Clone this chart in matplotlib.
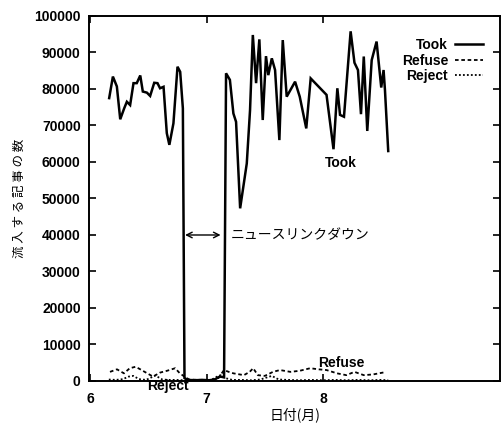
import matplotlib
matplotlib.use("Agg")
import matplotlib.pyplot as plt

# ---- data (x in months, y in articles) ----
took_x = [6.163, 6.195, 6.229, 6.258, 6.292, 6.315, 6.343, 6.372, 6.40, 6.43,
          6.452, 6.487, 6.515, 6.55, 6.578, 6.60, 6.63, 6.658, 6.68, 6.715,
          6.75, 6.773, 6.796, 6.81, 6.84, 6.90, 6.96, 7.02, 7.07, 7.10,
          7.12, 7.15, 7.167, 7.20, 7.23, 7.253, 7.288, 7.345, 7.373, 7.397,
          7.425, 7.453, 7.482, 7.51, 7.53, 7.56, 7.588, 7.625, 7.654, 7.688,
          7.76, 7.80, 7.856, 7.894, 8.03, 8.09, 8.123, 8.146, 8.18, 8.237,
          8.27, 8.30, 8.326, 8.35, 8.38, 8.418, 8.46, 8.50, 8.52, 8.532, 8.56]
took_y = [77500, 83400, 80700, 71700, 74700, 76500, 75600, 81600, 81600, 83700,
          79300, 79000, 78100, 81700, 81600, 80200, 80600, 67900, 64700, 70600,
          86100, 84700, 74700, 800, 300, 200, 300, 200, 400, 1000,
          1200, 1000, 84300, 82500, 73300, 71000, 47300, 59600, 74200, 94800,
          81600, 93600, 71500, 89000, 83800, 88400, 85200, 66000, 93400, 77900,
          82000, 77900, 69200, 82900, 78400, 63500, 80200, 72900, 72400, 95800,
          87200, 85200, 73100, 88900, 68500, 87900, 93000, 80400, 85200, 79700, 63000]

refuse_x = [6.17, 6.23, 6.29, 6.34, 6.39, 6.43, 6.49, 6.54, 6.60, 6.66, 6.73,
            6.77, 6.81, 6.85, 6.95, 7.05, 7.10, 7.15, 7.19, 7.23, 7.32, 7.37,
            7.40, 7.44, 7.50, 7.57, 7.63, 7.72, 7.80, 7.89, 7.96, 8.03, 8.12,
            8.20, 8.27, 8.35, 8.43, 8.53]
refuse_y = [2500, 3200, 2100, 3500, 3900, 3200, 2100, 1200, 2300, 2800, 3500,
            2100, 1200, 400, 300, 300, 800, 3000, 2500, 2100, 1600, 2500,
            3500, 1600, 1400, 2500, 3000, 2500, 2800, 3500, 3200, 3000, 2100,
            1600, 2500, 1600, 1800, 2400]

reject_x = [6.16, 6.22, 6.28, 6.33, 6.37, 6.42, 6.48, 6.52, 6.56, 6.62, 6.68,
            6.74, 6.80, 6.88, 6.96, 7.04, 7.09, 7.12, 7.16, 7.22, 7.30, 7.38,
            7.46, 7.52, 7.56, 7.62, 7.70, 7.80, 7.90, 8.00, 8.10, 8.20, 8.30,
            8.40, 8.50, 8.56]
reject_y = [400, 300, 500, 1200, 1400, 500, 300, 900, 1500, 400, 300,
            300, 200, 200, 200, 300, 1200, 1600, 800, 300, 300, 200,
            400, 1000, 1400, 400, 300, 200, 300, 200, 300, 200, 300,
            200, 300, 200]

x_ticks = [6, 7, 8]
y_ticks = list(range(0, 100001, 10000))

num_font = {"family": "Liberation Sans", "weight": "bold", "size": 10}
cjk = ["Noto Sans CJK JP", "DejaVu Sans"]

fig = plt.figure(figsize=(5.03, 4.23), dpi=100)
ax = fig.add_axes([0.177, 0.0993, 0.817, 0.8629])

ax.plot(took_x, took_y, color="black", lw=1.8, label="Took", solid_joinstyle="miter")
ax.plot(refuse_x, refuse_y, color="black", lw=1.3, ls=(0, (2, 1.5)), label="Refuse")
ax.plot(reject_x, reject_y, color="black", lw=1.3, ls=(0, (1, 1.2)), label="Reject")

ax.set_xlim(5.99, 9.52)
ax.set_ylim(0, 100000)
ax.set_xticks(x_ticks)
ax.set_xticklabels([str(t) for t in x_ticks], fontdict=num_font)
ax.set_yticks(y_ticks)
ax.set_yticklabels([str(t) for t in y_ticks], fontdict=num_font)
ax.tick_params(direction="in", top=True, right=True, length=5, width=1.2)
ax.tick_params(axis="x", pad=8)
ax.tick_params(axis="y", pad=6)
for s in ax.spines.values():
    s.set_linewidth(1.4)

ax.set_xlabel("日付(月)", family=cjk, fontsize=10, labelpad=1)
ax.set_ylabel("流 入 す る 記 事 の 数", family=cjk, fontsize=9, labelpad=6)

# annotations
ax.annotate("", xy=(6.815, 40000), xytext=(7.12, 40000),
            arrowprops=dict(arrowstyle="<->", lw=1.0, color="black",
                            shrinkA=0, shrinkB=0))
ax.text(7.21, 40000, "ニュースリンクダウン", family=cjk, fontsize=10,
        va="center", ha="left")
ax.text(8.15, 59700, "Took", fontdict=num_font, ha="center", va="center")
ax.text(8.16, 5000, "Refuse", fontdict=num_font, ha="center", va="center")
ax.text(6.67, -1500, "Reject", fontdict=num_font, ha="center", va="center",
        clip_on=False)

leg = ax.legend(loc="upper right", bbox_to_anchor=(0.972, 0.955), frameon=False,
                markerfirst=False, handlelength=2.0, handletextpad=0.5,
                labelspacing=0.12, borderaxespad=0,
                prop={"family": "Liberation Sans", "weight": "bold", "size": 10})

fig.savefig("out.png", dpi=100)
